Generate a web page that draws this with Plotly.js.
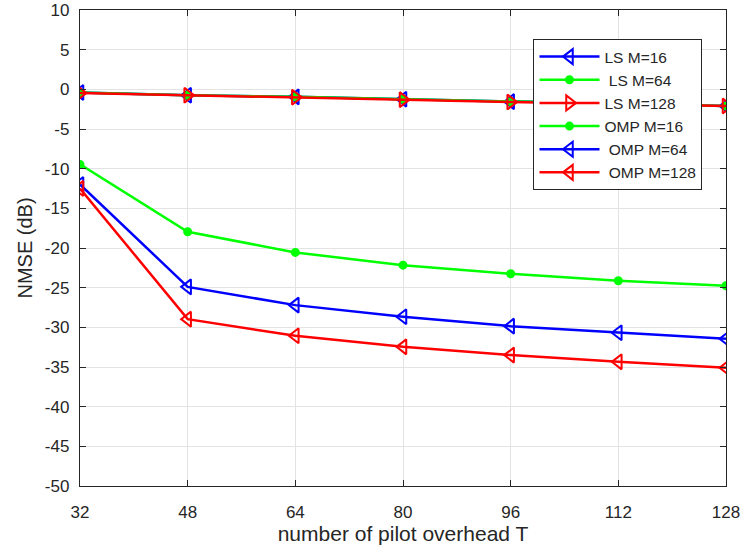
<!DOCTYPE html>
<html>
<head>
<meta charset="utf-8">
<script src="https://cdn.plot.ly/plotly-3.0.1.min.js"></script>
<style>html,body{margin:0;padding:0;background:#fff;}#chart{width:741px;height:552px;}</style>
</head>
<body>
<div id="chart"></div>
<script>
const pilotT = [32, 48, 64, 80, 96, 112, 128];
const xTicks = [32, 48, 64, 80, 96, 112, 128];
const yTicks = [-50, -45, -40, -35, -30, -25, -20, -15, -10, -5, 0, 5, 10];

const lsM16  = [-0.40, -0.75, -0.95, -1.25, -1.55, -1.80, -2.10];
const lsM64  = [-0.40, -0.75, -0.95, -1.25, -1.55, -1.80, -2.10];
const lsM128 = [-0.45, -0.75, -1.00, -1.30, -1.60, -1.85, -2.10];
const ompM16  = [-9.46, -17.95, -20.56, -22.16, -23.25, -24.13, -24.76];
const ompM64  = [-11.99, -24.90, -27.20, -28.67, -29.85, -30.69, -31.45];
const ompM128 = [-12.49, -28.97, -31.07, -32.46, -33.50, -34.35, -35.10];

const seriesNames = ['LS M=16', '&nbsp;LS M=64', 'LS M=128', 'OMP M=16', '&nbsp;OMP M=64', '&nbsp;OMP M=128'];

const BLUE = '#0000ff', GREEN = '#00ff00', RED = '#ff0000';

function tr(name, y, color, symbol, size) {
  return {
    x: pilotT, y: y, name: name, type: 'scatter', mode: 'lines+markers',
    line: {color: color, width: 2.5},
    marker: {symbol: symbol, size: size, color: color, line: {color: color, width: 2}}
  };
}

const data = [
  tr(seriesNames[0], lsM16, BLUE, 'triangle-left-open', 13),
  tr(seriesNames[1], lsM64, GREEN, 'circle', 7),
  tr(seriesNames[2], lsM128, RED, 'triangle-right-open', 13),
  tr(seriesNames[3], ompM16, GREEN, 'circle', 7),
  tr(seriesNames[4], ompM64, BLUE, 'triangle-left-open', 13),
  tr(seriesNames[5], ompM128, RED, 'triangle-left-open', 13)
];

const axisCommon = {
  showline: true, linecolor: '#262626', linewidth: 1.2, mirror: 'ticks',
  ticks: 'inside', ticklen: 6, tickcolor: '#262626', tickwidth: 1,
  showgrid: true, gridcolor: '#e3e3e3', gridwidth: 1,
  zeroline: false,
  tickfont: {family: 'Liberation Sans, Arial, sans-serif', size: 17, color: '#262626'}
};

const layout = {
  width: 741, height: 552,
  margin: {l: 80, r: 15, t: 10, b: 66},
  paper_bgcolor: '#ffffff', plot_bgcolor: '#ffffff',
  showlegend: true,
  font: {family: 'Liberation Sans, Arial, sans-serif', color: '#262626'},
  xaxis: Object.assign({}, axisCommon, {
    range: [32, 128], tickmode: 'array', tickvals: xTicks, ticktext: xTicks.map(String),
    ticklabelstandoff: 10,
    title: {text: 'number of pilot overhead T', font: {size: 21, color: '#262626'}, standoff: 5}
  }),
  yaxis: Object.assign({}, axisCommon, {
    range: [-50, 10], tickmode: 'array', tickvals: yTicks, ticktext: yTicks.map(String),
    ticklabelstandoff: 6,
    title: {text: 'NMSE (dB)', font: {size: 20, color: '#262626'}, standoff: 6}
  }),
  legend: {
    x: 0.702, y: 0.939, xanchor: 'left', yanchor: 'top',
    bgcolor: '#ffffff', bordercolor: '#262626', borderwidth: 1,
    font: {size: 15.5, color: '#262626'},
    itemwidth: 60, tracegroupgap: 0
  }
};

Plotly.newPlot('chart', data, layout, {displayModeBar: false, staticPlot: true});
</script>
</body>
</html>
